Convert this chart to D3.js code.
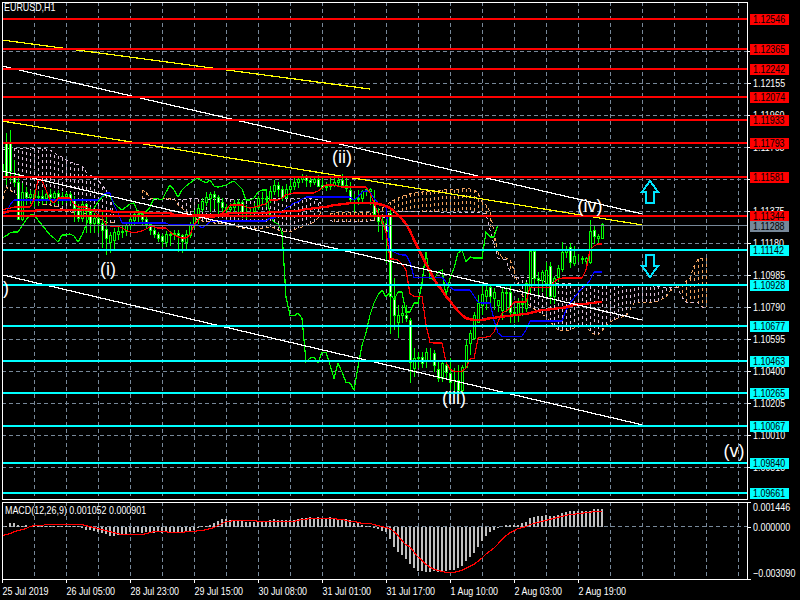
<!DOCTYPE html>
<html>
<head>
<meta charset="utf-8">
<script src="https://cdn.jsdelivr.net/npm/d3@7"></script>
<style>
  html, body { margin: 0; padding: 0; background: #000; }
  svg { display: block; }
  text { font-family: "Liberation Sans", sans-serif; font-size: 11px; fill: #fff; }
</style>
</head>
<body>
<div id="chart"></div>
<script>
// all price series are in points above 1.10000 (1444 = 1.11444), one value per H1 bar
const opens = [
  1658,1791,1791,1578,1548,1322,1487,1462,1475,1462,
  1468,1456,1475,1462,1481,1456,1468,1475,1444,1395,
  1334,1414,1371,1298,1334,1298,1267,1182,1200,1231,
  1243,1249,1286,1316,1347,1353,1322,1292,1261,1231,
  1219,1182,1225,1231,1237,1225,1182,1225,1286,1347,
  1389,1426,1456,1475,1462,1426,1401,1383,1401,1420,
  1426,1365,1371,1371,1401,1456,1450,1444,1493,1535,
  1505,1462,1505,1529,1548,1566,1578,1560,1548,1566,
  1535,1523,1529,1535,1548,1560,1535,1499,1444,1444,
  1456,1493,1493,1426,1347,1310,1298,1359,846,695,
  737,743,712,420,480,486,468,517,511,413,
  358,438,389,328,346,286,425,572,602,695,
  804,853,913,846,798,773,877,883,755,743,
  810,785,913,1127,968,956,938,1036,858,974,
  1023,1121,1157,1054,1090,1084,1072,1066,1255,1212,
  1212
];
const highs = [
  1749,1852,1870,1688,1609,1548,1523,1505,1505,1499,
  1505,1493,1511,1499,1505,1493,1493,1493,1468,1420,
  1444,1426,1401,1365,1353,1371,1340,1249,1273,1279,
  1286,1310,1347,1377,1383,1371,1353,1310,1286,1249,
  1237,1255,1255,1261,1261,1237,1261,1310,1383,1420,
  1456,1493,1493,1499,1475,1456,1420,1426,1444,1450,
  1444,1414,1401,1426,1468,1493,1481,1529,1566,1554,
  1529,1541,1566,1590,1590,1602,1596,1584,1590,1596,
  1578,1554,1578,1590,1590,1602,1590,1554,1481,1505,
  1505,1517,1517,1505,1395,1353,1371,1383,968,804,
  804,804,724,541,517,517,541,541,529,468,
  468,456,480,419,438,438,590,651,761,864,
  925,925,925,907,834,913,913,925,797,846,
  846,944,1139,1139,1005,1017,1066,1066,980,1048,
  1188,1163,1182,1163,1115,1103,1097,1322,1292,1237,
  1304
];
const lows = [
  1273,1535,1554,1523,1322,1316,1414,1420,1401,1407,
  1414,1420,1426,1414,1420,1414,1426,1420,1310,1310,
  1310,1243,1243,1243,1243,1151,1109,1121,1139,1200,
  1212,1225,1267,1286,1298,1286,1267,1231,1212,1188,
  1157,1157,1163,1200,1127,1121,1139,1212,1273,1298,
  1371,1407,1371,1389,1347,1359,1340,1359,1371,1359,
  1334,1328,1340,1359,1383,1414,1401,1426,1475,1462,
  1438,1450,1487,1505,1517,1548,1523,1523,1535,1523,
  1505,1499,1505,1523,1529,1523,1493,1426,1371,1414,
  1426,1468,1414,1334,1249,1200,1060,628,651,602,
  694,700,328,365,419,419,419,468,395,334,
  334,358,286,274,274,274,419,499,590,700,
  743,773,804,773,761,712,761,694,694,700,
  737,761,865,932,865,883,846,810,810,944,
  1005,1090,1029,1042,1066,1054,1054,1054,1176,1182,
  1206
];
const closes = [
  1615,1584,1615,1548,1322,1487,1462,1475,1462,1468,
  1456,1475,1462,1481,1456,1468,1475,1444,1395,1334,
  1414,1371,1298,1334,1298,1261,1212,1225,1243,1249,
  1249,1286,1322,1353,1353,1322,1292,1261,1231,1212,
  1188,1231,1231,1237,1225,1188,1231,1292,1353,1395,
  1432,1462,1475,1462,1426,1401,1383,1401,1420,1426,
  1365,1365,1371,1401,1456,1450,1444,1493,1535,1505,
  1462,1505,1529,1548,1566,1578,1560,1548,1566,1529,
  1523,1529,1535,1548,1560,1535,1511,1444,1444,1456,
  1493,1505,1505,1353,1310,1298,1249,853,743,737,
  755,724,456,480,486,450,517,517,438,358,
  450,395,334,328,286,425,560,633,743,816,
  865,895,853,883,834,883,883,761,761,816,
  816,938,1127,968,956,1005,1017,858,968,1029,
  1121,1139,1066,1097,1090,1090,1090,1249,1219,1219,
  1292
];
const tenkan = [
  1383,1389,1395,1401,1401,1401,1401,1401,1444,1566,
  1566,1505,1444,1426,1456,1456,1456,1456,1420,1401,
  1401,1401,1389,1377,1353,1340,1292,1286,1286,1286,
  1273,1261,1249,1243,1249,1255,1267,1280,1280,1273,
  1273,1273,1249,1231,1219,1212,1212,1231,1292,1322,
  1340,1340,1340,1340,1347,1365,1383,1414,1414,1414,
  1414,1401,1395,1401,1407,1414,1420,1444,1444,1444,
  1456,1475,1481,1487,1487,1487,1487,1487,1487,1499,
  1517,1535,1535,1535,1529,1523,1523,1523,1523,1523,
  1523,1523,1487,1426,1365,1316,1249,1084,1084,1078,
  1054,1017,871,858,858,858,682,578,572,572,
  572,456,413,401,401,401,419,474,480,602,
  608,608,614,639,700,755,767,785,822,822,
  822,822,913,913,913,913,913,913,944,962,
  968,968,968,968,968,968,1017,1139,1163,1176,
  1176
];
const kijun = [
  1365,1365,1414,1444,1444,1444,1444,1444,1444,1444,
  1444,1444,1444,1444,1444,1444,1444,1444,1444,1444,
  1444,1444,1444,1444,1444,1468,1487,1487,1414,1365,
  1304,1304,1304,1304,1304,1304,1304,1304,1304,1304,
  1304,1304,1292,1292,1292,1292,1292,1292,1292,1292,
  1273,1292,1310,1316,1316,1316,1316,1316,1316,1316,
  1316,1316,1316,1316,1316,1316,1316,1334,1334,1347,
  1371,1395,1407,1426,1432,1450,1462,1462,1462,1462,
  1462,1462,1462,1462,1462,1462,1462,1462,1444,1462,
  1493,1499,1493,1456,1426,1414,1401,1139,1127,1115,
  1109,1109,1066,974,974,974,974,974,974,974,
  974,944,913,895,895,895,895,895,858,822,
  816,816,816,712,633,614,614,614,614,614,
  614,651,706,706,706,706,706,706,706,706,
  706,773,816,846,877,907,925,956,1005,1005,
  1005
];
const movingAvg = [
  1365,1371,1377,1377,1377,1377,1377,1377,1377,1383,
  1383,1383,1383,1383,1383,1383,1383,1383,1383,1383,
  1383,1383,1383,1383,1383,1377,1377,1377,1371,1371,
  1371,1371,1371,1371,1371,1371,1365,1365,1365,1365,
  1365,1365,1365,1353,1353,1353,1353,1353,1353,1353,
  1353,1353,1353,1353,1347,1353,1359,1365,1365,1365,
  1365,1365,1365,1365,1365,1365,1365,1371,1371,1371,
  1371,1377,1377,1377,1377,1383,1389,1389,1395,1395,
  1401,1401,1407,1414,1414,1420,1420,1426,1426,1426,
  1426,1426,1426,1426,1420,1414,1407,1395,1377,1353,
  1328,1298,1255,1200,1151,1102,1054,1011,962,925,
  895,858,828,797,767,743,724,718,712,712,
  712,718,724,724,731,731,737,737,743,743,
  749,749,755,761,767,773,773,779,779,785,
  785,791,797,804,810,810,810,816,816,822,
  822
];
// senkou spans run 26 bars past the last candle, null where the spans touch
const senkouA = [
  1414,1523,1505,1487,1475,1468,1462,1456,1450,1438,
  1414,1414,1414,1407,1401,1389,1371,1371,1365,1365,
  1365,1359,1359,1347,1334,1322,1310,1304,1304,null,
  null,null,null,null,null,1505,1493,1456,1456,1456,
  1456,1456,1456,1456,1414,1395,1371,1359,1340,1322,
  1316,1310,1310,1304,1298,1298,1292,1286,1286,1280,
  1273,1273,1273,1273,1273,1273,1273,1280,1273,1261,
  1255,1249,1249,1261,1273,1280,1286,1298,1310,1334,
  1383,null,1359,1365,1365,1365,1365,1365,1365,1365,
  1365,1365,1365,1371,1377,1395,1407,1432,1444,1456,
  1468,1475,1481,1487,1487,1493,1493,1493,1499,1499,
  1505,1505,1505,1505,1505,1511,1511,1511,1505,1487,
  1432,1414,1371,1249,1127,1097,1090,1078,1017,925,
  865,828,798,779,767,749,731,706,675,651,
  651,645,651,663,675,682,669,645,627,621,
  645,682,700,712,724,731,737,773,816,822,
  822,822,822,822,828,840,852,889,907,919,
  932,950,968,1042,1084,1090,1090
];
const senkouB = [
  1749,1755,1755,1755,1755,1755,1755,1755,1755,1755,
  1755,1755,1749,1731,1718,1706,1688,1676,1670,1658,
  1652,1615,1597,1584,1566,1535,1505,1462,1340,null,
  null,null,null,null,null,1456,1456,1444,1444,1444,
  1444,1444,1444,1444,1444,1444,1450,1450,1450,1450,
  1444,1444,1444,1444,1444,1450,1450,1450,1444,1444,
  1444,1444,1450,1450,1450,1456,1456,1456,1456,1456,
  1456,1456,1456,1450,1450,1450,1450,1450,1450,1444,
  1414,null,1322,1310,1310,1310,1310,1310,1310,1310,
  1310,1310,1316,1316,1322,1328,1347,1365,1371,1371,
  1371,1371,1371,1371,1371,1371,1371,1371,1371,1371,
  1365,1365,1365,1365,1365,1365,1365,1365,1365,1365,
  1365,1359,1261,1170,1090,1084,1078,1005,968,974,
  974,974,974,962,956,950,950,944,938,938,
  938,932,932,932,925,925,925,925,925,925,
  925,925,925,925,925,925,925,925,925,925,
  925,925,925,919,919,913,913,913,913,907,
  852,822,816,822,816,791,791
];
// macd in millionths
const macdHist = [
  0,60,180,180,120,60,120,60,60,60,
  60,60,60,60,60,60,60,60,60,30,
  -60,-180,-180,-240,-300,-360,-420,-540,-540,-480,
  -480,-420,-300,-360,-300,-360,-300,-300,-360,-300,
  -360,-300,-360,-360,-300,-300,-300,-300,-180,-60,
  30,60,120,180,300,420,420,360,300,300,
  300,240,240,240,240,240,240,360,420,360,
  360,360,360,360,420,480,480,540,480,540,
  480,480,540,480,420,420,420,360,180,180,
  120,60,30,-60,-120,-240,-300,-720,-1200,-1500,
  -1680,-1920,-2220,-2460,-2640,-2640,-2700,-2700,-2640,-2700,
  -2640,-2640,-2580,-2580,-2460,-2340,-2040,-1800,-1560,-1200,
  -840,-540,-300,-180,-60,0,120,120,120,90,
  180,240,480,540,600,600,660,600,600,660,
  780,840,900,900,900,900,900,900,1020,1020,
  1052
];
const macdSignal = [
  -540,-480,-420,-300,-240,-180,-120,0,60,60,
  60,120,120,120,120,120,120,120,120,120,
  120,60,0,-60,-120,-180,-240,-300,-360,-420,
  -480,-480,-480,-480,-480,-480,-420,-360,-300,-300,
  -300,-300,-360,-360,-360,-360,-300,-300,-300,-240,
  -240,-180,-120,-60,60,180,300,300,360,360,
  360,360,360,360,300,300,300,300,300,300,
  300,300,300,300,360,420,420,480,480,480,
  480,480,480,480,420,420,360,300,300,240,
  180,180,180,120,60,0,-60,-120,-300,-540,
  -840,-1080,-1200,-1500,-1800,-1980,-2220,-2400,-2520,-2580,
  -2640,-2700,-2700,-2700,-2640,-2580,-2460,-2340,-2220,-2040,
  -1860,-1620,-1440,-1260,-1020,-780,-540,-360,-240,-120,
  -60,0,120,180,240,300,360,420,480,540,
  600,660,720,720,780,780,840,840,901,901,
  901
];

const redLevels = [1.12546, 1.12365, 1.12242, 1.12074, 1.11933, 1.11793, 1.11581, 1.11344];
const cyanLevels = [1.11142, 1.10928, 1.10677, 1.10463, 1.10265, 1.10067, 1.09840, 1.09661];
const bidPrice = 1.11288;

const priceTicks = [1.12350, 1.12155, 1.11960, 1.11765, 1.11570, 1.11375, 1.11180, 1.10985, 1.10790, 1.10595, 1.10400, 1.10205, 1.10010, 1.09815];
const macdTicks = [0.001446, 0, -0.00309];
const timeBars = [0, 16, 32, 48, 64, 80, 96, 112, 128, 144];
const timeLabels = ["25 Jul 2019", "26 Jul 05:00", "28 Jul 23:00", "29 Jul 15:00", "30 Jul 08:00", "31 Jul 01:00", "31 Jul 17:00", "1 Aug 10:00", "2 Aug 03:00", "2 Aug 19:00"];

// trend lines: start bar, start price, end bar, end price
const whiteTrends = [
  [0, 1.12260, 160, 1.11359],
  [0, 1.11621, 160, 1.10713],
  [0, 1.10988, 160, 1.10074]
];
const yellowTrends = [
  [0, 1.12419, 92, 1.12120],
  [0, 1.11925, 160, 1.11292]
];
// elliott wave labels: text, bar, price
const waveLabels = [
  ["(i)", 26.5, 1.10988],
  ["(ii)", 85, 1.11670],
  ["(iii)", 113, 1.10202],
  ["(iv)", 147, 1.11371],
  ["(v)", 183, 1.09879],
  [")", 1, 1.10872]
];
// arrow objects: bar, tip price, direction
const arrows = [
  [162, 1.11560, -1],
  [162, 1.10975, 1]
];

const width = 800, height = 600;
const left = 2, right = 747, mainTop = 2, mainBottom = 499, macdTop = 502, macdBottom = 579;

const x = d3.scaleLinear().domain([0, 1]).range([2, 6]);
const y = d3.scaleLinear().domain([1.12155, 1.10010]).range([83.3, 435.3]);
const yMacd = d3.scaleLinear().domain([-0.00309, 0.001446]).range([579, 502]);
const toPrice = p => 1.1 + p / 1e5;

// the terminal font is narrower than anything installed, so squeeze the glyphs
function narrow(sel) {
  sel.each(function() {
    this.setAttribute("textLength", this.getComputedTextLength() * 0.81);
    this.setAttribute("lengthAdjust", "spacingAndGlyphs");
  });
}

const svg = d3.select("#chart").append("svg")
  .attr("width", width)
  .attr("height", height)
  .style("background", "#000")
  .attr("shape-rendering", "crispEdges");

svg.append("defs").append("clipPath").attr("id", "mainClip")
  .append("rect").attr("x", left).attr("y", mainTop).attr("width", right - left).attr("height", mainBottom - mainTop);

const grid = "#778899";

// grid
const gridBars = d3.range(8, 186, 8);
svg.append("g").selectAll("line").data(gridBars).enter().append("line")
  .attr("x1", d => x(d)).attr("x2", d => x(d))
  .attr("y1", mainTop).attr("y2", mainBottom)
  .attr("stroke", grid).attr("stroke-dasharray", "4,3");
svg.append("g").selectAll("line").data(gridBars).enter().append("line")
  .attr("x1", d => x(d)).attr("x2", d => x(d))
  .attr("y1", macdTop).attr("y2", macdBottom)
  .attr("stroke", grid).attr("stroke-dasharray", "4,3");
svg.append("g").selectAll("line").data(priceTicks).enter().append("line")
  .attr("x1", left).attr("x2", right)
  .attr("y1", d => y(d)).attr("y2", d => y(d))
  .attr("stroke", grid).attr("stroke-dasharray", "4,3");
svg.append("line")
  .attr("x1", left).attr("x2", right)
  .attr("y1", yMacd(0)).attr("y2", yMacd(0))
  .attr("stroke", grid).attr("stroke-dasharray", "4,3");

const main = svg.append("g").attr("clip-path", "url(#mainClip)");

// ichimoku cloud hatching, orange when span A is on top
const orange = "#F4A460", thistle = "#D8BFD8";
main.append("g").selectAll("line")
  .data(senkouA.map((a, i) => ({ i, a, b: senkouB[i] })).filter(d => d.a != null))
  .enter().append("line")
  .attr("x1", d => x(d.i)).attr("x2", d => x(d.i))
  .attr("y1", d => y(toPrice(d.a))).attr("y2", d => y(toPrice(d.b)))
  .attr("stroke", d => d.a > d.b ? orange : thistle)
  .attr("stroke-dasharray", "3,3");

const line = d3.line()
  .defined(d => d != null)
  .x((d, i) => x(i))
  .y(d => y(toPrice(d)));

main.append("path").attr("d", line(senkouA)).attr("fill", "none").attr("stroke", orange).attr("stroke-dasharray", "3,3");
main.append("path").attr("d", line(senkouB)).attr("fill", "none").attr("stroke", thistle).attr("stroke-dasharray", "3,3");

// candles
const candles = opens.map((o, i) => ({ i, o, h: highs[i], l: lows[i], c: closes[i] }));
main.append("g").selectAll("line").data(candles).enter().append("line")
  .attr("x1", d => x(d.i)).attr("x2", d => x(d.i))
  .attr("y1", d => y(toPrice(d.h))).attr("y2", d => y(toPrice(d.l)))
  .attr("stroke", "#00FF00");
main.append("g").selectAll("rect").data(candles).enter().append("rect")
  .attr("x", d => x(d.i) - 1)
  .attr("width", 2)
  .attr("y", d => y(toPrice(Math.max(d.o, d.c))))
  .attr("height", d => Math.abs(y(toPrice(d.o)) - y(toPrice(d.c))))
  .attr("fill", d => d.c < d.o ? "#fff" : "#000")
  .attr("stroke", "#00FF00");

// chikou span is the close shifted 26 bars back
main.append("path").attr("d", line(closes.slice(26))).attr("fill", "none").attr("stroke", "#00FF00").attr("stroke-width", 1.2);
main.append("path").attr("d", line(kijun)).attr("fill", "none").attr("stroke", "#0000FF").attr("stroke-width", 1.2);
main.append("path").attr("d", line(tenkan)).attr("fill", "none").attr("stroke", "#FF0000").attr("stroke-width", 1.2);
main.append("path").attr("d", line(movingAvg)).attr("fill", "none").attr("stroke", "#FF0000").attr("stroke-width", 2.5);

// trend lines
function drawTrends(rows, color) {
  main.append("g").selectAll("line").data(rows).enter().append("line")
    .attr("x1", d => x(d[0])).attr("y1", d => y(d[1]))
    .attr("x2", d => x(d[2])).attr("y2", d => y(d[3]))
    .attr("stroke", color).attr("stroke-width", 1.2);
}
drawTrends(whiteTrends, "#fff");
drawTrends(yellowTrends, "#FFFF00");

// horizontal levels
main.append("line").attr("x1", left).attr("x2", right)
  .attr("y1", y(bidPrice)).attr("y2", y(bidPrice)).attr("stroke", grid);
function drawLevels(levels, color) {
  main.append("g").selectAll("line").data(levels).enter().append("line")
    .attr("x1", left).attr("x2", right)
    .attr("y1", d => y(d)).attr("y2", d => y(d))
    .attr("stroke", color).attr("stroke-width", 2);
}
drawLevels(redLevels, "#FF0000");
drawLevels(cyanLevels, "#00FFFF");

// arrows
main.append("g").selectAll("path").data(arrows).enter().append("path")
  .attr("transform", d => `translate(${x(d[0])},${y(d[1])}) scale(1,${-d[2]})`)
  .attr("d", "M0,0 L8,11 L4,11 L4,22 L-4,22 L-4,11 L-8,11 Z")
  .attr("fill", "#000")
  .attr("stroke", "#00E5FF")
  .attr("stroke-width", 2);

// wave labels
main.append("g").selectAll("text").data(waveLabels).enter().append("text")
  .attr("x", d => x(d[1])).attr("y", d => y(d[2]))
  .attr("text-anchor", "middle")
  .style("font-size", "18px")
  .text(d => d[0]);

// macd pane
svg.append("g").selectAll("rect").data(macdHist).enter().append("rect")
  .attr("x", (d, i) => x(i) - 1)
  .attr("width", 2)
  .attr("y", d => Math.min(yMacd(d / 1e6), yMacd(0)))
  .attr("height", d => Math.abs(yMacd(d / 1e6) - yMacd(0)))
  .attr("fill", "#C0C0C0");
svg.append("path")
  .attr("d", d3.line().x((d, i) => x(i)).y(d => yMacd(d / 1e6))(macdSignal))
  .attr("fill", "none").attr("stroke", "#FF0000").attr("stroke-width", 1.2);

// frames
svg.append("rect").attr("x", left).attr("y", mainTop).attr("width", right - left).attr("height", mainBottom - mainTop)
  .attr("fill", "none").attr("stroke", "#fff");
svg.append("rect").attr("x", left).attr("y", macdTop).attr("width", right - left).attr("height", macdBottom - macdTop)
  .attr("fill", "none").attr("stroke", "#fff");

// axes
const priceAxis = svg.append("g").attr("transform", `translate(${right},0)`)
  .call(d3.axisRight(y).tickValues(priceTicks).tickFormat(d3.format(".5f")).tickSize(4).tickPadding(2));
const macdAxis = svg.append("g").attr("transform", `translate(${right},0)`)
  .call(d3.axisRight(yMacd).tickValues(macdTicks).tickFormat(d3.format(".6f")).tickSize(4).tickPadding(2));
const timeAxis = svg.append("g").attr("transform", `translate(0,${macdBottom})`)
  .call(d3.axisBottom(x).tickValues(timeBars).tickFormat((d, i) => timeLabels[i]).tickSize(4).tickPadding(4));
[priceAxis, macdAxis, timeAxis].forEach(a => {
  a.select(".domain").remove();
  a.selectAll("line").attr("stroke", "#fff");
  a.selectAll("text").attr("fill", "#fff").attr("font-size", null).attr("font-family", null).call(narrow);
});
timeAxis.selectAll("text").attr("text-anchor", "start");
// top and bottom macd labels stay inside the pane
macdAxis.selectAll("text").attr("dy", d => d > 0 ? "0.8em" : d < 0 ? "-0.25em" : "0.32em");

// level price tags sit on top of the axis text
const tags = redLevels.map(p => ({ p, bg: "#FF0000" }))
  .concat(cyanLevels.map(p => ({ p, bg: "#00FFFF" })))
  .concat([{ p: bidPrice, bg: grid }]);
const tag = svg.append("g").selectAll("g").data(tags).enter().append("g")
  .attr("transform", d => `translate(750,${Math.round(y(d.p))})`);
tag.append("rect").attr("x", 0).attr("y", -5).attr("width", 39).attr("height", 11).attr("fill", d => d.bg);
tag.append("text").attr("x", 3).attr("y", 4).style("fill", "#000").text(d => d.p.toFixed(5)).call(narrow);

// titles
svg.append("text").attr("x", 4).attr("y", 11).text("EURUSD,H1").call(narrow);
svg.append("text").attr("x", 5).attr("y", 514).text("MACD(12,26,9) 0.001052 0.000901").call(narrow);
</script>
</body>
</html>
